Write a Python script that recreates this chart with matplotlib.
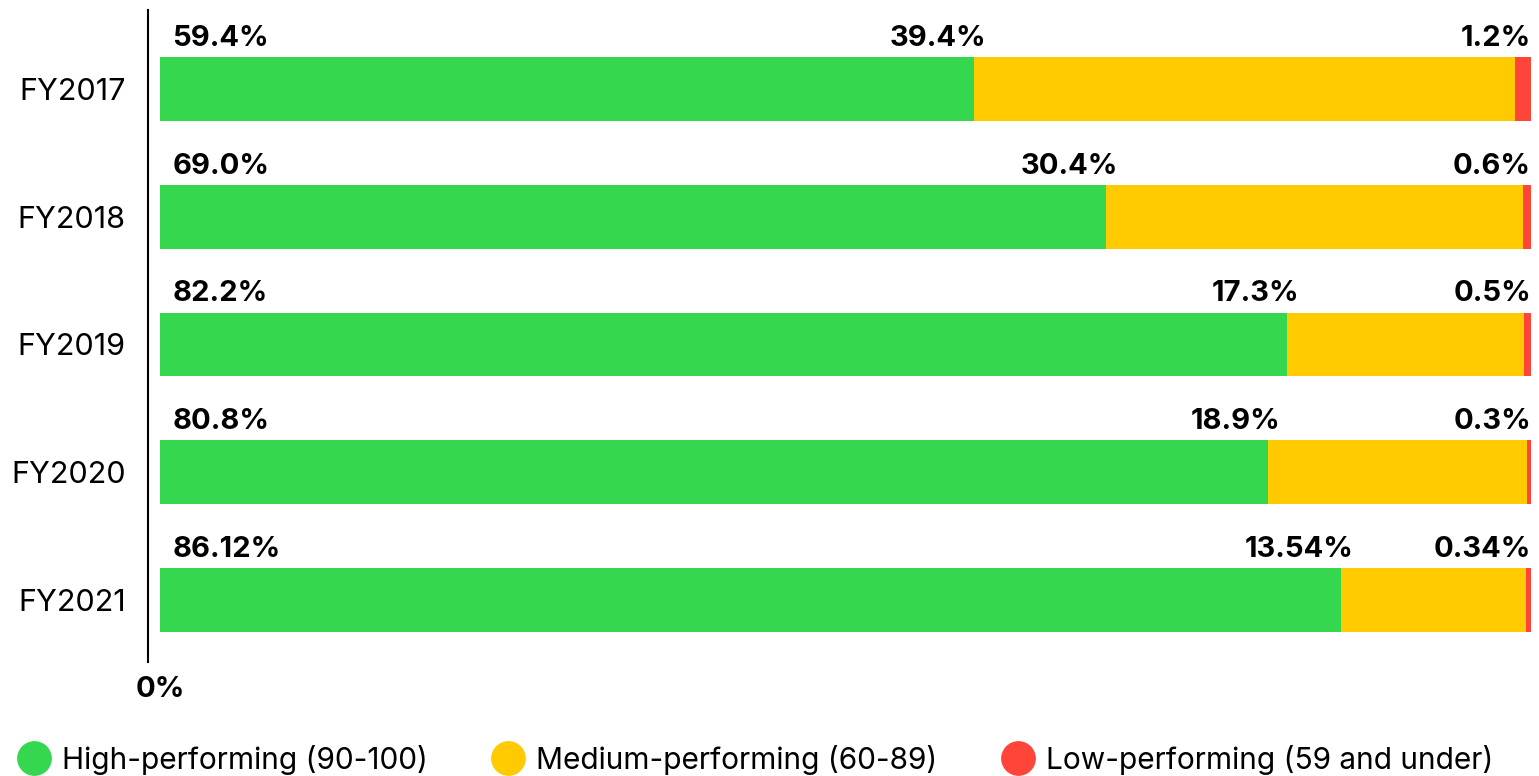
import numpy as np
import matplotlib.pyplot as plt
from matplotlib.lines import Line2D

plt.rcParams['font.family'] = ['Inter', 'DejaVu Sans']

# data
years = ['FY2017', 'FY2018', 'FY2019', 'FY2020', 'FY2021']
high = [59.4, 69.0, 82.2, 80.8, 86.12]
medium = [39.4, 30.4, 17.3, 18.9, 13.54]
low = [1.2, 0.6, 0.5, 0.3, 0.34]
high_lbl = ['59.4%', '69.0%', '82.2%', '80.8%', '86.12%']
medium_lbl = ['39.4%', '30.4%', '17.3%', '18.9%', '13.54%']
low_lbl = ['1.2%', '0.6%', '0.5%', '0.3%', '0.34%']
series_names = ['High-performing (90-100)', 'Medium-performing (60-89)',
                'Low-performing (59 and under)']
colors = ['#34D74E', '#FFCB00', '#FF453A']

fig = plt.figure(figsize=(15.39, 7.76), dpi=100)
ax = fig.add_axes([148 / 1539, 114 / 776, 1 - 148 / 1539, 652 / 776])

y = np.arange(len(years))
high = np.array(high)
medium = np.array(medium)
low = np.array(low)

ax.barh(y, high, height=0.5, color=colors[0])
ax.barh(y, medium, left=high, height=0.5, color=colors[1])
ax.barh(y, low, left=high + medium, height=0.5, color=colors[2])

# value labels above the bars
for i in range(len(years)):
    ty = y[i] - 0.29
    ax.text(0.9, ty, high_lbl[i], ha='left', va='bottom', fontsize=21, fontweight='bold')
    ax.text(high[i] + 0.9, ty, medium_lbl[i], ha='right', va='bottom', fontsize=21, fontweight='bold')
    ax.text(high[i] + medium[i] + low[i], ty, low_lbl[i], ha='right', va='bottom',
            fontsize=21, fontweight='bold')

ax.set_xlim(-0.875, 100.58)
ax.set_ylim(4.484, -0.617)
ax.set_yticks(y)
ax.set_yticklabels(years, fontsize=22)
ax.set_xticks([0])
ax.set_xticklabels(['0%'], fontsize=21, fontweight='bold')
ax.tick_params(length=0, axis='y', pad=16)
ax.tick_params(length=0, axis='x', pad=10)
for s in ['top', 'right', 'bottom']:
    ax.spines[s].set_visible(False)
ax.spines['left'].set_linewidth(1.5)

handles = [Line2D([], [], marker='o', linestyle='none', markersize=24,
                  markerfacecolor=c, markeredgecolor=c) for c in colors]
fig.legend(handles, series_names, loc='lower left', bbox_to_anchor=(-0.008, -0.033),
           ncol=3, frameon=False, fontsize=21.5, handletextpad=0.28,
           columnspacing=2.05, handlelength=1.3)

fig.savefig('out.png', dpi=100)
